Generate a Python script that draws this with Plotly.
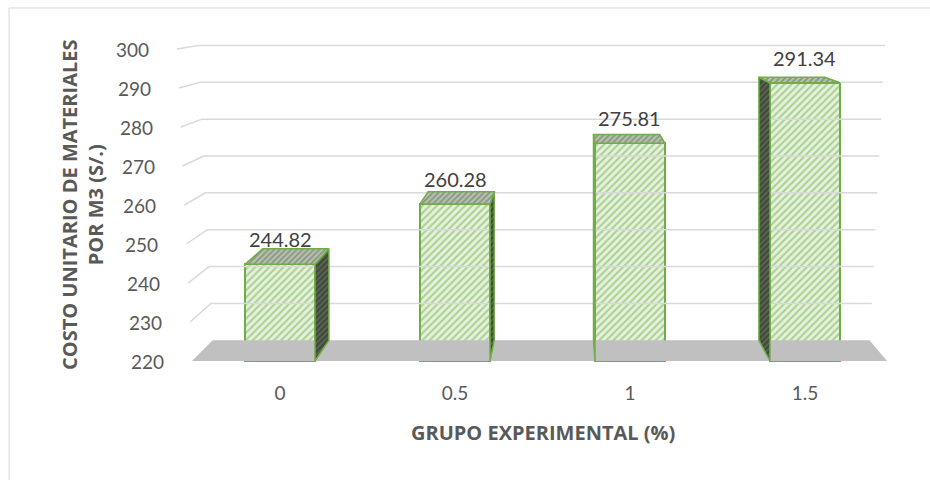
import plotly.graph_objects as go

# Costo unitario de materiales por m3 según grupo experimental
categories = ["0", "0.5", "1", "1.5"]
costs = [244.82, 260.28, 275.81, 291.34]
y_ticks = [220, 230, 240, 250, 260, 270, 280, 290, 300]

FLOOR = 220
BAR_W = 0.4
positions = list(range(len(categories)))

# simple perspective: back points shrink toward a vanishing point
VX, VY, SHRINK = 1.646, 316.67, 0.945


def back_x(x):
    return VX + (x - VX) * SHRINK


def back_y(y):
    return VY + (y - VY) * SHRINK


def lerp(a, b, t):
    return a + (b - a) * t


GREEN = "#70ad47"
TXT = "#595959"
FONT = "Lato"
TITLE_FONT = "Open Sans"

fig = go.Figure()

# floor
fl_l, fl_r = -0.503, 3.469
fig.add_trace(go.Scatter(
    x=[fl_l, fl_r, back_x(fl_r), back_x(fl_l), fl_l],
    y=[FLOOR, FLOOR, back_y(FLOOR), back_y(FLOOR), FLOOR],
    fill="toself", fillcolor="#c0c0c0", mode="lines",
    line=dict(width=0, color="#c0c0c0"), hoverinfo="skip", showlegend=False))

# gridlines on side and back walls
for v in y_ticks[1:]:
    t = (v - y_ticks[0]) / (y_ticks[-1] - y_ticks[0])
    xf = lerp(-0.503, -0.589, t)
    xr = lerp(3.371, 3.457, t)
    fig.add_trace(go.Scatter(
        x=[xf, back_x(xf), xr], y=[v, back_y(v), back_y(v)],
        mode="lines", line=dict(color="#d9d9d9", width=1.5),
        hoverinfo="skip", showlegend=False))

# y tick labels follow the slanted side wall
annotations = []
for v in y_ticks:
    t = (v - y_ticks[0]) / (y_ticks[-1] - y_ticks[0])
    xf = lerp(-0.503, -0.589, t)
    annotations.append(dict(x=xf, y=v, xref="x", yref="y", text=str(v),
                            showarrow=False, xanchor="right", yanchor="middle",
                            xshift=-26, font=dict(family=FONT, size=19, color=TXT)))

# side and top faces of each column
for p, c in zip(positions, costs):
    xl, xr = p - BAR_W / 2, p + BAR_W / 2
    xs = xr if xr < VX else xl
    fig.add_trace(go.Scatter(
        x=[xs, xs, back_x(xs), back_x(xs), xs],
        y=[FLOOR, c, back_y(c), back_y(FLOOR), FLOOR],
        fill="toself", fillcolor="#4a5a40", mode="lines",
        fillpattern=dict(shape="/", fgcolor="#6b9a4a", bgcolor="#444444", size=4, solidity=0.4),
        line=dict(color=GREEN, width=1.5), hoverinfo="skip", showlegend=False))
    fig.add_trace(go.Scatter(
        x=[xl, xr, back_x(xr), back_x(xl), xl],
        y=[c, c, back_y(c), back_y(c), c],
        fill="toself", fillcolor="#a9b3a0", mode="lines",
        fillpattern=dict(shape="/", fgcolor="#4e6b3a", bgcolor="#b8beb2", size=4, solidity=0.4),
        line=dict(color=GREEN, width=1.5), hoverinfo="skip", showlegend=False))

# front faces
fig.add_trace(go.Bar(
    x=positions, y=[c - FLOOR for c in costs], base=FLOOR, width=BAR_W,
    customdata=costs, hovertemplate="%{customdata:.2f}<extra></extra>",
    marker=dict(color="#e2f0d9",
                pattern=dict(shape="/", fgcolor="#74b04b", bgcolor="#e6f2dd", size=5, solidity=0.42),
                line=dict(color=GREEN, width=2)),
    showlegend=False))

# value labels
for p, c in zip(positions, costs):
    annotations.append(dict(x=p, y=c, xref="x", yref="y", text=f"{c:.2f}",
                            showarrow=False, yanchor="bottom", yshift=11,
                            font=dict(family=FONT, size=20, color="#404040")))

# axis titles
annotations.append(dict(x=0.5176, y=-0.1486, xref="paper", yref="paper",
                        text="<b>GRUPO EXPERIMENTAL (%)</b>", showarrow=False,
                        xanchor="center", yanchor="middle",
                        font=dict(family=TITLE_FONT, size=20, color=TXT)))
annotations.append(dict(x=-0.1054, y=0.5, xref="paper", yref="paper",
                        text="<b>COSTO UNITARIO DE MATERIALES<br>POR M3 (S/.)</b>",
                        showarrow=False, textangle=-90, xanchor="center", yanchor="middle",
                        font=dict(family=TITLE_FONT, size=20, color=TXT)))

fig.update_layout(
    width=930, height=480,
    margin=dict(l=160, r=30, t=30, b=100),
    paper_bgcolor="white", plot_bgcolor="white",
    bargap=0,
    xaxis=dict(range=[-0.6857, 3.5429], tickvals=positions, ticktext=categories,
               showgrid=False, zeroline=False, showline=False, ticks="",
               tickfont=dict(family=FONT, size=19, color=TXT), fixedrange=True),
    yaxis=dict(range=[215.128, 304.872], showgrid=False, zeroline=False,
               showticklabels=False, showline=False, ticks="", fixedrange=True),
    annotations=annotations,
    shapes=[dict(type="rect", xref="paper", yref="paper",
                 x0=-0.204, x1=1.06, y0=-0.33, y1=1.0629,
                 line=dict(color="#d9d9d9", width=1), fillcolor="rgba(0,0,0,0)",
                 layer="below")],
)

fig.write_html("out.html")
